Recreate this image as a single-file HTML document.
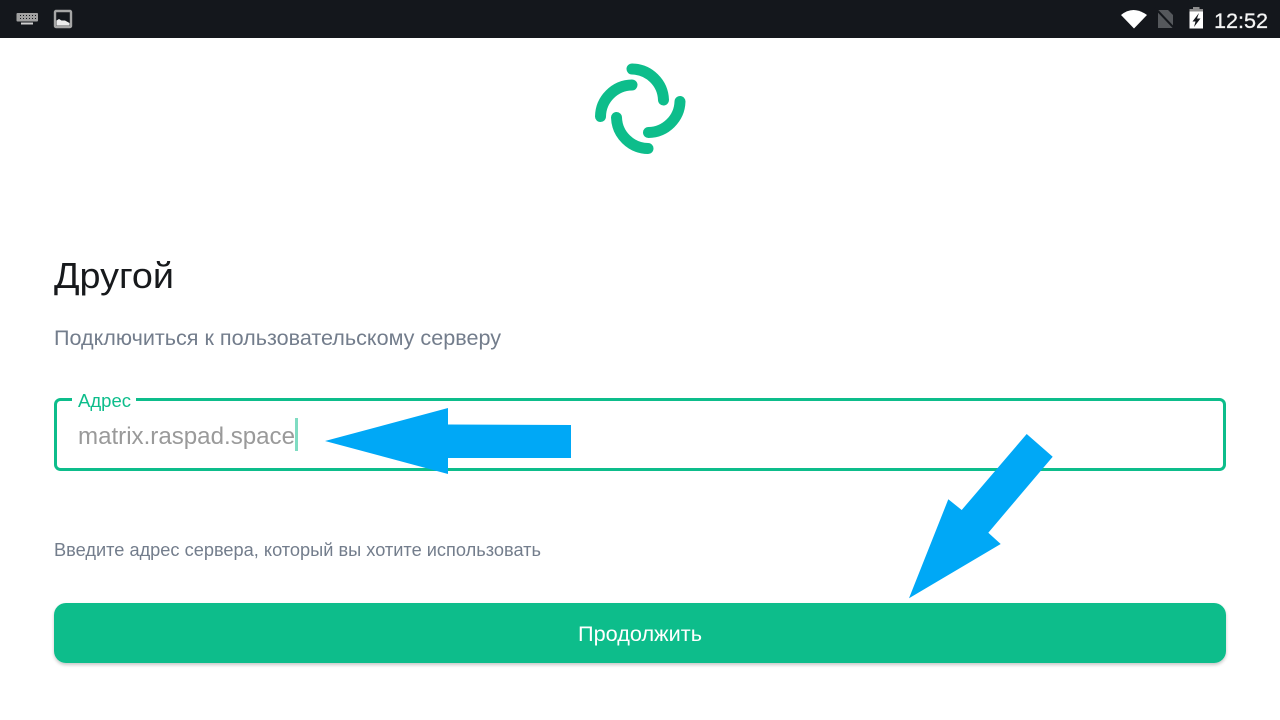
<!DOCTYPE html>
<html>
<head>
<meta charset="utf-8">
<style>
html,body{margin:0;padding:0;background:#fff;width:1280px;height:720px;overflow:hidden}
svg{display:block}
text{font-family:"Liberation Sans","DejaVu Sans",sans-serif}
</style>
</head>
<body>
<svg width="1280" height="720" viewBox="0 0 1280 720" xmlns="http://www.w3.org/2000/svg">
<defs>
<filter id="sh" x="-2%" y="-10%" width="104%" height="130%"><feDropShadow dx="0" dy="2" stdDeviation="1.500" flood-color="#000" flood-opacity="0.22"/></filter>
</defs>
<rect width="1280" height="720" fill="#fff"/>
<!-- status bar -->
<rect width="1280" height="38" fill="#14171c"/>
<rect x="16.500" y="13" width="21.500" height="8.500" rx="1" fill="#a0a0a0"/>
<g fill="#14171c"><rect x="20" y="15" width="1" height="1"/><rect x="23" y="15" width="1" height="1"/><rect x="26" y="15" width="1" height="1"/><rect x="29" y="15" width="1" height="1"/><rect x="32" y="15" width="1" height="1"/><rect x="35" y="15" width="1" height="1"/><rect x="20" y="18" width="1" height="1"/><rect x="23" y="18" width="1" height="1"/><rect x="26" y="18" width="1" height="1"/><rect x="29" y="18" width="1" height="1"/><rect x="32" y="18" width="1" height="1"/><rect x="35" y="18" width="1" height="1"/></g>
<rect x="21" y="22.500" width="12" height="2" fill="#cfcfcf"/>
<rect x="55" y="11" width="16" height="16" fill="none" stroke="#a6a6a6" stroke-width="2.400" rx="1"/>
<path d="M56.500 25.500 L56.500 20.500 L59 19 L61.500 20.500 L65 20.500 L69.500 23 L69.500 25.500 Z" fill="#ececec"/>
<path d="M1121 15 Q1133 5 1147 15 L1134 28.500 Z" fill="#fff"/>
<path d="M1158 10 H1168 L1173 15 V28 H1158 Z" fill="#55585c"/>
<path d="M1155 8 L1175 29" stroke="#14171c" stroke-width="2"/>
<rect x="1189.500" y="11" width="13.500" height="17.500" fill="#fff"/>
<rect x="1189.500" y="9" width="13.500" height="2.500" fill="#8c8c8c"/>
<rect x="1193" y="7" width="6.500" height="2.500" fill="#8c8c8c"/>
<path d="M1199 13 L1192.500 21.500 H1195.500 L1194 27 L1200.500 18.500 H1197 Z" fill="#14171c"/>
<text x="1214" y="28" font-size="21.500" fill="#f5f5f5" stroke="#f5f5f5" stroke-width="0.300" textLength="54" lengthAdjust="spacingAndGlyphs">12:52</text>
<!-- logo -->
<g fill="none" stroke="#0dbd8b" stroke-width="11" stroke-linecap="round">
<path d="M632 69 A32 32 0 0 1 663.500 100"/>
<path d="M680 101.500 A32 32 0 0 1 648.500 132.500"/>
<path d="M648 148.500 A32 32 0 0 1 616.500 117.500"/>
<path d="M600.500 116.500 A32 32 0 0 1 632 85"/>
</g>
<!-- heading -->
<text x="54" y="288" font-size="36" fill="#17191c" textLength="120" lengthAdjust="spacingAndGlyphs">Другой</text>
<text x="54" y="345" font-size="21" fill="#737d8c" textLength="447" lengthAdjust="spacingAndGlyphs">Подключиться к пользовательскому серверу</text>
<!-- input -->
<rect x="55.500" y="399.500" width="1169" height="70" rx="5" fill="none" stroke="#0dbd8b" stroke-width="3"/>
<rect x="72" y="395" width="64" height="8" fill="#fff"/>
<text x="78" y="407" font-size="18" fill="#0dbd8b" textLength="53" lengthAdjust="spacingAndGlyphs">Адрес</text>
<text x="78" y="444" font-size="24" fill="#9a9a9a" textLength="217" lengthAdjust="spacingAndGlyphs">matrix.raspad.space</text>
<rect x="295" y="418" width="3" height="33" fill="#7fdcc2"/>
<!-- helper -->
<text x="54" y="556" font-size="18" fill="#737d8c" textLength="487" lengthAdjust="spacingAndGlyphs">Введите адрес сервера, который вы хотите использовать</text>
<!-- button -->
<rect x="54" y="603" width="1172" height="60" rx="12" fill="#0dbd8b" filter="url(#sh)"/>
<text x="578" y="641" font-size="21" fill="#fff" textLength="124" lengthAdjust="spacingAndGlyphs">Продолжить</text>
<!-- arrows -->
<polygon points="325,441 448,408 448,424.500 571,425 571,458 448,458 448,474" fill="#00a8f6"/>
<polygon points="1026.700,434 1052.700,456.700 988.300,532.700 1000.700,544 909,598.300 948.300,499.300 961.700,510" fill="#00a8f6"/>
</svg>
</body>
</html>
